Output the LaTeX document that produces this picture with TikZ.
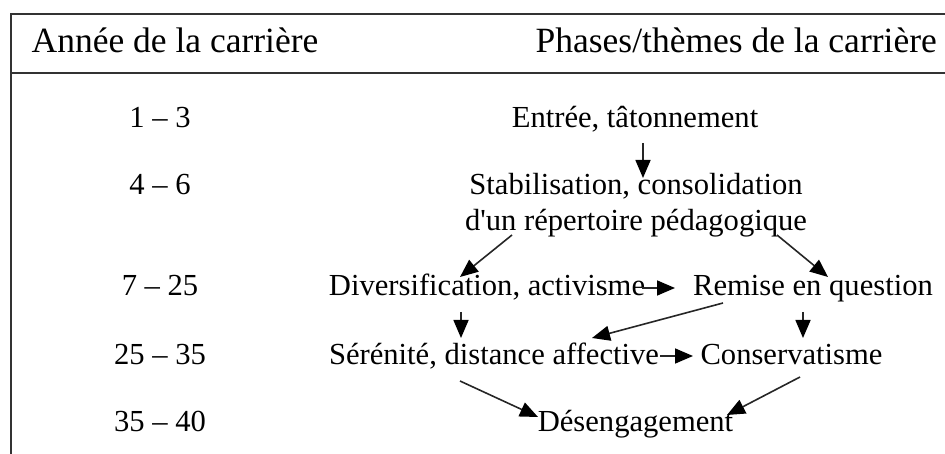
\documentclass[tikz,border=0pt]{standalone}
\usepackage{fontspec}
\setmainfont{Liberation Serif}[Ligatures=TeXOff]
\usetikzlibrary{arrows.meta,calc}
\tikzset{
  frameline/.style={line width=2pt,draw=black!80},
  hdr/.style={anchor=base,inner sep=0pt,font=\fontsize{35.5}{40}\selectfont},
  txt/.style={anchor=base,inner sep=0pt,font=\fontsize{30.6}{36}\selectfont,align=center},
  arr/.style={line width=1.6pt,draw=black!85,-{Triangle[length=18pt,width=15pt,fill=black,color=black]}}
}
\begin{document}
\begin{tikzpicture}[x=1pt,y=-1pt]
\useasboundingbox (0,0) rectangle (945,454);
% frame
\draw[frameline] (945,14) -- (11,14) -- (11,454);
\draw[frameline] (11,73) -- (945,73);
% headers
\node[hdr] (hl) at (175,53) {Année de la carrière};
\node[hdr,anchor=base east] (hr) at (937,53) {Phases/thèmes de la carrière};
% years
\node[txt] (y1) at (160,128) {1 – 3};
\node[txt] (y2) at (160,195) {4 – 6};
\node[txt] (y3) at (160,296) {7 – 25};
\node[txt] (y4) at (160,364) {25 – 35};
\node[txt] (y5) at (160,431) {35 – 40};
% phases
\node[txt] (entree) at (635,128) {Entrée, tâtonnement};
\node[txt] (stab) at (636,231) {Stabilisation, consolidation\\[0pt]d'un répertoire pédagogique};
\node[txt] (div) at (487,296) {Diversification, activisme};
\node[txt] (remise) at (813,296) {Remise en question};
\node[txt] (seren) at (494,364) {Sérénité, distance affective};
\node[txt] (cons) at (791.5,364) {Conservatisme};
\node[txt] (deseng) at (635.5,431) {Désengagement};
% connectors
\draw[arr] ($(entree.base)+(8,15)$) -- ($(stab.base)+(7,-53)$);
\draw[arr] ($(stab.base)+(-124,4)$) -- ($(div.base)+(-27,-19)$);
\draw[arr] ($(stab.base)+(141,4)$) -- ($(remise.base)+(15,-19)$);
\draw[arr] ($(div.base)+(155,-8)$) -- ($(remise.base)+(-138,-8)$);
\draw[arr] ($(div.base)+(-26,16)$) -- ($(seren.base)+(-33,-26)$);
\draw[arr] ($(remise.base)+(-90,7)$) -- ($(seren.base)+(98,-26)$);
\draw[arr] ($(remise.base)+(-10,16)$) -- ($(cons.base)+(11.5,-26)$);
\draw[arr] ($(seren.base)+(166,-8)$) -- ($(cons.base)+(-98.5,-8)$);
\draw[arr] ($(seren.base)+(-34,17)$) -- ($(deseng.base)+(-97.5,-14)$);
\draw[arr] ($(cons.base)+(8.5,13)$) -- ($(deseng.base)+(91.5,-16)$);
\end{tikzpicture}
\end{document}
